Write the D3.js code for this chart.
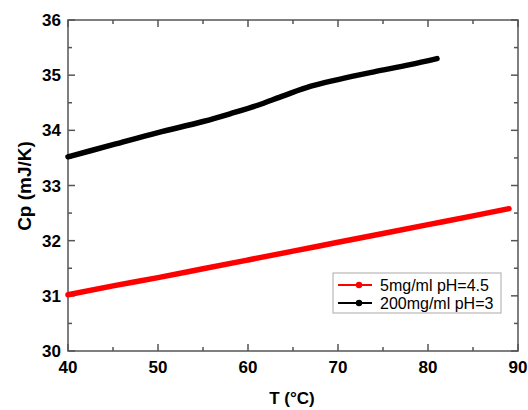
<!DOCTYPE html>
<html>
<head>
<meta charset="utf-8">
<script src="https://cdn.jsdelivr.net/npm/d3@7"></script>
<style>
  body { margin: 0; background: #fff; }
  svg text { font-family: "Liberation Sans", Arial, sans-serif; }
</style>
</head>
<body>
<div id="chart"></div>
<script>
// temperatures (°C) and heat capacities (mJ/K)
var redTemps = [40, 45, 50, 55, 60, 65, 70, 75, 80, 85, 89];
var redCp = [31.02, 31.18, 31.33, 31.49, 31.65, 31.81, 31.97, 32.13, 32.29, 32.45, 32.58];
var blackTemps = [40, 45, 50, 55, 58, 61, 64, 67, 70, 74, 78, 81];
var blackCp = [33.52, 33.74, 33.96, 34.16, 34.3, 34.45, 34.63, 34.8, 34.92, 35.06, 35.19, 35.3];
var xTicks = [40, 50, 60, 70, 80, 90];
var yTicks = [30, 31, 32, 33, 34, 35, 36];
var seriesNames = ["5mg/ml pH=4.5", "200mg/ml pH=3"];
var seriesColors = ["#ff0000", "#000000"];

function drawChart() {
  var margin = {top: 20, right: 10, bottom: 59, left: 68};
  var width = 450, height = 331;
  var svg = d3.select("#chart").append("svg")
    .attr("width", 528).attr("height", 410);
  var g = svg.append("g")
    .attr("transform", "translate(" + margin.left + "," + margin.top + ")");

  var x = d3.scaleLinear().domain([40, 90]).range([0, width]);
  var y = d3.scaleLinear().domain([30, 36]).range([height, 0]);
  var axisColor = "#555";

  // inward ticks on all four sides
  var xMinor = d3.range(45, 90, 10);
  var yMinor = d3.range(30.5, 36, 1);
  function tickLines(sel, vals, len, horizontal, atEdge, dir) {
    sel.selectAll(null).data(vals).enter().append("line")
      .attr("x1", d => horizontal ? x(d) : atEdge)
      .attr("x2", d => horizontal ? x(d) : atEdge + dir * len)
      .attr("y1", d => horizontal ? atEdge : y(d))
      .attr("y2", d => horizontal ? atEdge + dir * len : y(d))
      .attr("stroke", axisColor).attr("stroke-width", 1.5);
  }
  var ticks = g.append("g");
  tickLines(ticks, xTicks, 7, true, height, -1);
  tickLines(ticks, xMinor, 4, true, height, -1);
  tickLines(ticks, xTicks, 7, true, 0, 1);
  tickLines(ticks, xMinor, 4, true, 0, 1);
  tickLines(ticks, yTicks, 7, false, 0, 1);
  tickLines(ticks, yMinor, 4, false, 0, 1);
  tickLines(ticks, yTicks, 7, false, width, -1);
  tickLines(ticks, yMinor, 4, false, width, -1);

  g.append("rect")
    .attr("width", width).attr("height", height)
    .attr("fill", "none").attr("stroke", axisColor).attr("stroke-width", 1.5);

  // tick labels
  g.selectAll(".xl").data(xTicks).enter().append("text")
    .attr("x", d => x(d)).attr("y", height + 22)
    .attr("text-anchor", "middle")
    .style("font-size", "17px").style("font-weight", "bold")
    .text(d => d);
  g.selectAll(".yl").data(yTicks).enter().append("text")
    .attr("x", -7).attr("y", d => y(d) + 6)
    .attr("text-anchor", "end")
    .style("font-size", "17px").style("font-weight", "bold")
    .text(d => d);

  // axis titles
  svg.append("text")
    .attr("x", 292).attr("y", 404)
    .attr("text-anchor", "middle")
    .style("font-size", "17px").style("font-weight", "bold")
    .text("T (°C)");
  svg.append("text")
    .attr("transform", "translate(31,186) rotate(-90)")
    .attr("text-anchor", "middle")
    .style("font-size", "19px").style("font-weight", "bold")
    .text("Cp (mJ/K)");

  // data lines
  var line = d3.line()
    .x(d => x(d[0])).y(d => y(d[1]))
    .curve(d3.curveMonotoneX);
  var series = [d3.zip(redTemps, redCp), d3.zip(blackTemps, blackCp)];
  series.forEach(function (pts, i) {
    g.append("path")
      .datum(pts)
      .attr("fill", "none")
      .attr("stroke", seriesColors[i])
      .attr("stroke-width", 5.5)
      .attr("stroke-linecap", "round")
      .attr("d", line);
  });

  // legend
  var lg = svg.append("g").attr("transform", "translate(333,273)");
  lg.append("rect")
    .attr("width", 168).attr("height", 40)
    .attr("fill", "#fff").attr("stroke", "#aaa").attr("stroke-width", 1);
  seriesNames.forEach(function (name, i) {
    var cy = 12 + i * 18;
    lg.append("line")
      .attr("x1", 5).attr("x2", 39).attr("y1", cy).attr("y2", cy)
      .attr("stroke", seriesColors[i]).attr("stroke-width", 2);
    lg.append("circle")
      .attr("cx", 26).attr("cy", cy).attr("r", 3.2)
      .attr("fill", seriesColors[i]);
    lg.append("text")
      .attr("x", 47).attr("y", cy + 6)
      .style("font-size", "16px")
      .text(name);
  });
}
drawChart();
</script>
</body>
</html>
